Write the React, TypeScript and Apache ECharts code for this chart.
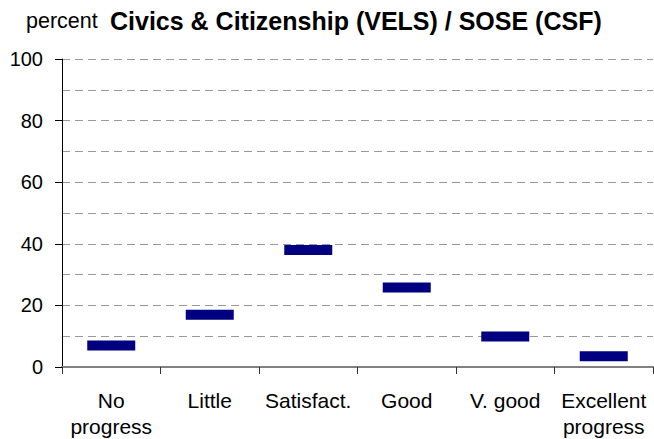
import React, { useEffect, useRef } from "react";
import * as echarts from "echarts";

const categories = ["No\nprogress", "Little", "Satisfact.", "Good", "V. good", "Excellent\nprogress"];
const values = [7, 17, 38, 25.8, 9.9, 3.5];
const yTicks = { min: 0, max: 100, interval: 20 };
const unitLabel = "percent";
const titleText = "Civics & Citizenship (VELS) / SOSE (CSF)";

const FONT = "'Liberation Sans', Arial, sans-serif";

export default function App() {
  const ref = useRef<HTMLDivElement>(null);
  useEffect(() => {
    if (!ref.current) return;
    const chart = echarts.init(ref.current, null, { renderer: "svg" });
    chart.setOption({
      animation: false,
      backgroundColor: "#ffffff",
      textStyle: { fontFamily: FONT },
      graphic: [
        {
          type: "text",
          left: 26,
          top: 10,
          style: { text: unitLabel, fontSize: 21.5, fontFamily: FONT, fill: "#000" },
        },
        {
          type: "text",
          left: 110,
          top: 8,
          style: { text: titleText, fontSize: 25, fontWeight: "bold", fontFamily: FONT, fill: "#000" },
        },
      ],
      grid: { left: 62, right: 1, top: 59, bottom: 70, containLabel: false },
      xAxis: {
        type: "category",
        data: categories,
        boundaryGap: true,
        axisLine: { show: true, lineStyle: { color: "#808080", width: 2 } },
        axisTick: { show: true, length: 7, lineStyle: { color: "#333", width: 1 } },
        axisLabel: {
          color: "#000",
          fontSize: 21,
          fontFamily: FONT,
          margin: 20,
          lineHeight: 26,
          interval: 0,
        },
        splitLine: { show: false },
      },
      yAxis: {
        type: "value",
        min: yTicks.min,
        max: yTicks.max,
        interval: yTicks.interval,
        axisLine: { show: true, onZero: false, lineStyle: { color: "#000", width: 1 } },
        axisTick: { show: true, length: 7, lineStyle: { color: "#000", width: 1 } },
        axisLabel: { color: "#000", fontSize: 20, fontFamily: FONT, margin: 19 },
        splitLine: { show: true, lineStyle: { color: "#999", type: [8, 5], width: 1 } },
        minorTick: { show: false, splitNumber: 2 },
        minorSplitLine: { show: true, lineStyle: { color: "#999", type: [8, 5], width: 1 } },
      },
      series: [
        {
          type: "scatter",
          data: values,
          symbol: "rect",
          symbolSize: [48, 10],
          itemStyle: { color: "#000080", opacity: 1 },
          z: 5,
        },
      ],
    });
    return () => chart.dispose();
  }, []);
  return <div ref={ref} style={{ width: 654, height: 439, position: "absolute", left: 0, top: 0 }} />;
}
